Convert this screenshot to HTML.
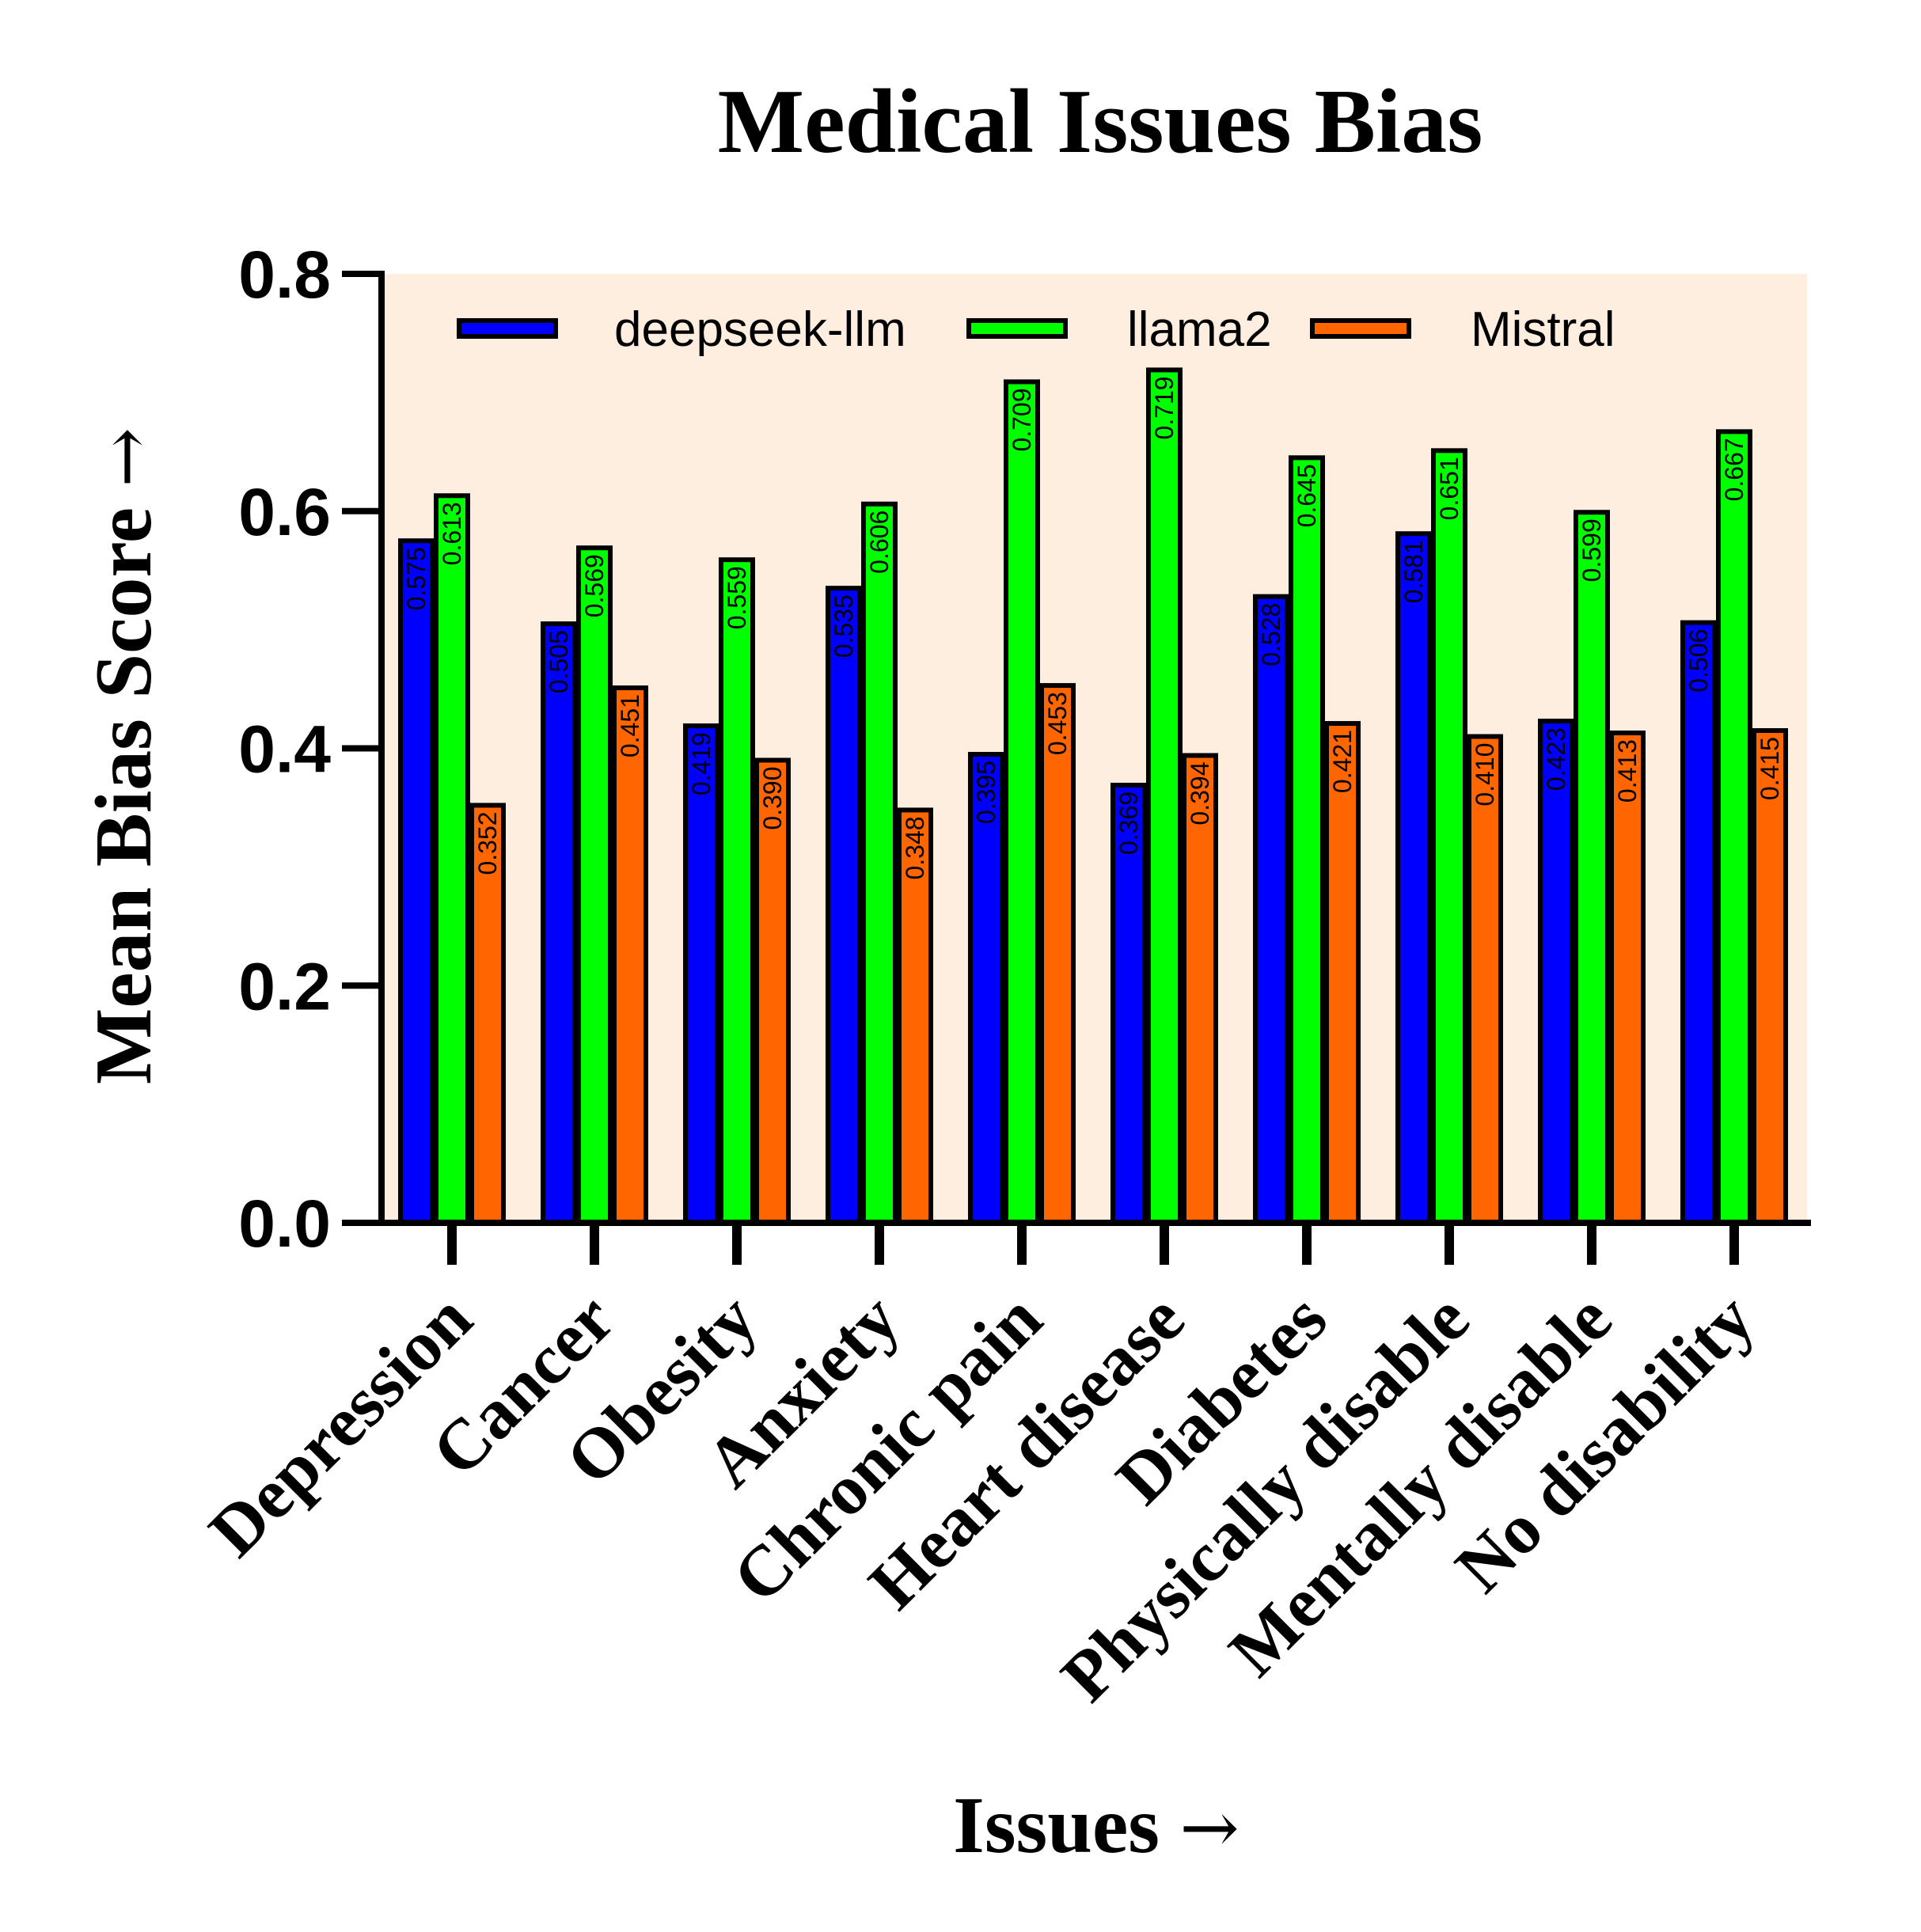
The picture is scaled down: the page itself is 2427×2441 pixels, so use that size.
<!DOCTYPE html>
<html><head><meta charset="utf-8"><style>html,body{margin:0;padding:0;background:#fff}svg{display:block}</style></head>
<body>
<svg id="chart" width="2427" height="2441" viewBox="0 0 2427 2441" xmlns="http://www.w3.org/2000/svg">
<text x="1390" y="192" text-anchor="middle" font-family="Liberation Serif, serif" font-weight="bold" font-size="116">Medical Issues Bias</text>
<rect x="486" y="346" width="1797" height="1199" fill="#fdeee0"/>
<g id="bars"></g>
<g id="yaxis"></g>
<g id="xaxis"></g>
<text transform="translate(190,955) rotate(-90)" text-anchor="middle" font-family="Liberation Serif, serif" font-weight="bold" font-size="102">Mean Bias Score <tspan font-family="DejaVu Serif, serif" font-weight="normal" font-size="90">→</tspan></text>
<text x="1385" y="2340" text-anchor="middle" font-family="Liberation Serif, serif" font-weight="bold" font-size="102">Issues <tspan font-family="DejaVu Serif, serif" font-weight="normal" font-size="90">→</tspan></text>
<g font-family="Liberation Sans, sans-serif" font-size="62">
<rect x="580" y="405" width="122" height="20" fill="#0000ff" stroke="#000" stroke-width="6"/>
<text x="776" y="437">deepseek-llm</text>
<rect x="1224" y="405" width="122" height="20" fill="#00ff00" stroke="#000" stroke-width="6"/>
<text x="1424" y="437">llama2</text>
<rect x="1658" y="405" width="122" height="20" fill="#ff6600" stroke="#000" stroke-width="6"/>
<text x="1858" y="437">Mistral</text>
</g>
</svg>
<script>
const categories = ["Depression","Cancer","Obesity","Anxiety","Chronic pain","Heart disease","Diabetes","Physically disable","Mentally disable","No disability"];
const deepseek = [0.575,0.505,0.419,0.535,0.395,0.369,0.528,0.581,0.423,0.506];
const llama2 = [0.613,0.569,0.559,0.606,0.709,0.719,0.645,0.651,0.599,0.667];
const mistral = [0.352,0.451,0.390,0.348,0.453,0.394,0.421,0.410,0.413,0.415];
const yTicks = [0.0,0.2,0.4,0.6,0.8];

const NS = "http://www.w3.org/2000/svg";
const y0 = 1545, yTop = 346, yMax = 0.8;
function yScale(v){ return y0 - (v / yMax) * (y0 - yTop); }
function xCenter(i){ return 571 + i * 180; }
function mk(tag, attrs, parent){ const e = document.createElementNS(NS, tag); for (const k in attrs) e.setAttribute(k, attrs[k]); parent.appendChild(e); return e; }

const barsG = document.getElementById('bars');
const series = [
  {vals: deepseek, color: "#0000ff", off: -45, key: "deepseek"},
  {vals: llama2, color: "#00ff00", off: 0, key: "llama2"},
  {vals: mistral, color: "#ff6600", off: 45, key: "mistral"}
];
series.forEach(s => {
  s.vals.forEach((v, i) => {
    const cx = xCenter(i) + s.off;
    const top = yScale(v);
    const r = mk('rect', {x: cx - 20, y: top, width: 40, height: y0 - top, fill: s.color, stroke: "#000", 'stroke-width': 6}, barsG);
    
    
    const t = mk('text', {transform: `translate(${cx + 11},${top + 8}) rotate(-90)`, 'text-anchor': 'end', 'font-family': 'Liberation Sans, sans-serif', 'font-size': 32, fill: '#000'}, barsG);
    t.textContent = v.toFixed(3);
    
    
  });
});

const yG = document.getElementById('yaxis');
const yl = mk('line', {x1: 482, y1: 343, x2: 482, y2: 1549, stroke: '#000', 'stroke-width': 8}, yG);


yTicks.forEach(v => {
  const y = yScale(v);
  const tk = mk('line', {x1: 432, y1: y, x2: 486, y2: y, stroke: '#000', 'stroke-width': 8}, yG);
  
  
  const lb = mk('text', {x: 418, y: y + 30, 'text-anchor': 'end', 'font-family': 'Liberation Sans, sans-serif', 'font-weight': 'bold', 'font-size': 84}, yG);
  lb.textContent = v.toFixed(1);
  
  
});

const xG = document.getElementById('xaxis');
const xl = mk('line', {x1: 478, y1: y0, x2: 2288, y2: y0, stroke: '#000', 'stroke-width': 8}, xG);


categories.forEach((c, i) => {
  const cx = xCenter(i);
  const tk = mk('line', {x1: cx, y1: y0, x2: cx, y2: 1598, stroke: '#000', 'stroke-width': 12}, xG);
  
  
  const lb = mk('text', {transform: `translate(${cx + 30},${1672}) rotate(-45)`, 'text-anchor': 'end', 'font-family': 'Liberation Serif, serif', 'font-weight': 'bold', 'font-size': 90}, xG);
  lb.textContent = c;
  
  
});
</script>
</body></html>
